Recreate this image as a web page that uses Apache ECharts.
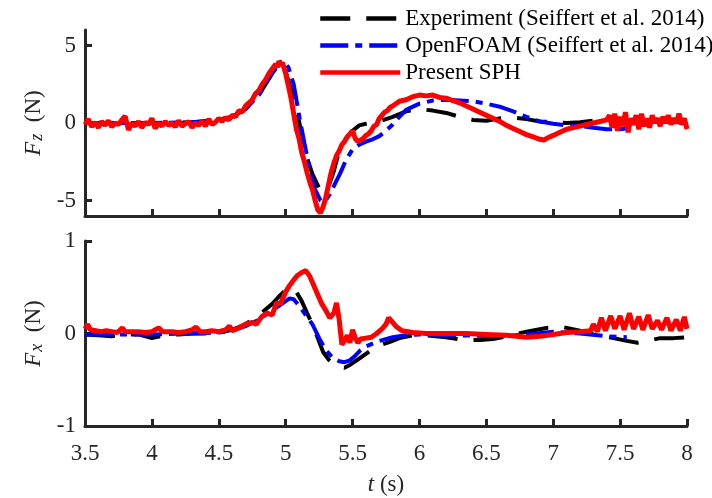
<!DOCTYPE html>
<html>
<head>
<meta charset="utf-8">
<script src="https://cdn.jsdelivr.net/npm/echarts@6/dist/echarts.min.js"></script>
<style>
html,body{margin:0;padding:0;background:#fff;}
#main{width:712px;height:498px;}
</style>
</head>
<body>
<div id="main"></div>
<script>
// legend names
var names = ['Experiment (Seiffert et al. 2014)', 'OpenFOAM (Seiffert et al. 2014)', 'Present SPH'];

// y tick values
var fzTicks = [-5, 0, 5];
var fxTicks = [-1, 0, 1];

// Fz (top panel), [t, value]
var expFz = [[3.5,0],[3.8,0],[4.0,0],[4.2,0],[4.4,0.1],[4.5,0.2],[4.6,0.4],[4.7,0.9],[4.8,1.8],[4.85,2.5],
    [4.9,3.2],[4.95,3.8],[4.97,3.85],[5.0,3.3],[5.05,1.9],[5.1,0.1],[5.15,-2.0],[5.2,-3.3],[5.25,-4.2],[5.28,-4.45],
    [5.32,-4.1],[5.36,-3.1],[5.4,-1.8],[5.45,-1.0],[5.5,-0.5],[5.55,-0.15],[5.6,-0.05],[5.7,0.1],[5.8,0.4],[5.9,0.75],
    [6.0,0.9],[6.1,0.8],[6.2,0.65],[6.3,0.4],[6.4,0.2],[6.5,0.15],[6.6,0.3],[6.7,0.35],[6.8,0.25],[6.9,0.1],
    [7.0,0.05],[7.1,0.0],[7.2,0.05],[7.3,0.15],[7.4,0.2],[7.5,0.15],[7.6,0.1],[7.7,0.1],[7.8,0.1],[7.9,0.05],[8.0,0.05]];

var foamFz = [[3.5,0],[4.0,0],[4.3,0.05],[4.5,0.2],[4.6,0.4],[4.7,0.9],[4.8,1.8],[4.9,3.3],[4.95,3.9],[4.98,4.0],
    [5.02,3.6],[5.06,2.5],[5.1,0.5],[5.14,-1.3],[5.18,-3.0],[5.22,-4.3],[5.26,-5.0],[5.29,-5.1],[5.33,-4.6],[5.37,-3.9],
    [5.41,-3.2],[5.45,-2.4],[5.5,-1.7],[5.55,-1.4],[5.6,-1.2],[5.65,-1.05],[5.7,-0.85],[5.75,-0.5],[5.8,-0.1],[5.85,0.4],
    [5.9,0.85],[6.0,1.25],[6.1,1.45],[6.2,1.5],[6.3,1.45],[6.4,1.4],[6.5,1.25],[6.6,1.05],[6.7,0.75],[6.8,0.4],
    [6.9,0.1],[7.0,-0.05],[7.1,-0.15],[7.2,-0.2],[7.3,-0.3],[7.4,-0.4],[7.5,-0.4],[7.55,-0.35]];

var sphFz = [[3.5,-0.1],[3.525,0.25],[3.55,-0.25],[3.575,0.05],[3.6,-0.3],[3.625,0.1],[3.65,-0.15],[3.675,0.15],[3.7,-0.25],[3.725,0.0],
    [3.75,-0.1],[3.775,0.2],[3.8,0.45],[3.825,-0.45],[3.85,0.0],[3.875,-0.2],[3.9,0.1],[3.925,-0.3],[3.95,0.05],[3.975,-0.1],
    [4.0,0.3],[4.025,-0.35],[4.05,0.0],[4.075,-0.2],[4.1,0.1],[4.125,-0.15],[4.15,0.0],[4.175,-0.25],[4.2,0.15],[4.225,-0.2],
    [4.25,-0.05],[4.275,0.1],[4.3,-0.3],[4.325,0.0],[4.35,-0.15],[4.375,0.1],[4.4,-0.2],[4.425,0.25],[4.45,-0.1],[4.475,0.05],
    [4.5,0.3],[4.525,0.1],[4.55,0.35],[4.575,0.2],[4.6,0.5],[4.625,0.4],[4.65,0.8],[4.675,0.7],[4.7,1.1],[4.725,1.3],
    [4.75,1.5],[4.775,1.9],[4.8,2.1],[4.825,2.5],[4.85,2.8],[4.875,3.2],[4.9,3.5],[4.925,3.8],[4.94,3.6],[4.95,4.0],
    [4.96,3.7],[4.975,3.9],[5.0,3.2],[5.02,2.4],[5.04,1.6],[5.06,0.6],[5.08,-0.4],[5.1,-1.0],[5.12,-1.9],[5.14,-2.5],
    [5.16,-3.2],[5.18,-3.8],[5.2,-4.3],[5.22,-5.0],[5.24,-5.6],[5.26,-5.8],[5.28,-5.4],[5.3,-4.8],[5.32,-4.0],[5.34,-3.2],
    [5.36,-2.6],[5.38,-2.1],[5.4,-1.8],[5.42,-1.4],[5.44,-1.2],[5.46,-0.9],[5.48,-0.7],[5.5,-0.5],[5.52,-1.0],[5.54,-1.2],
    [5.56,-1.1],[5.58,-1.0],[5.6,-0.8],[5.62,-0.7],[5.64,-0.5],[5.66,-0.2],[5.68,-0.1],[5.7,0.3],[5.72,0.5],[5.74,0.7],
    [5.76,0.8],[5.78,1.0],[5.8,1.1],[5.85,1.4],[5.9,1.5],[5.95,1.7],[6.0,1.8],[6.05,1.75],[6.1,1.8],[6.15,1.65],
    [6.2,1.6],[6.25,1.45],[6.3,1.3],[6.35,1.1],[6.4,0.9],[6.45,0.7],[6.5,0.5],[6.55,0.3],[6.6,0.1],[6.65,-0.15],
    [6.7,-0.35],[6.75,-0.55],[6.8,-0.75],[6.85,-0.9],[6.9,-1.05],[6.93,-1.1],[6.96,-0.95],[7.0,-0.8],[7.05,-0.6],[7.1,-0.4],
    [7.15,-0.3],[7.2,-0.2],[7.25,-0.1],[7.3,0.0],[7.35,0.1],[7.4,0.2],[7.42,0.5],[7.44,-0.3],[7.46,0.6],[7.48,-0.5],
    [7.5,0.4],[7.52,-0.2],[7.54,0.7],[7.56,-0.6],[7.58,0.3],[7.6,-0.1],[7.62,0.5],[7.64,-0.4],[7.66,0.6],[7.68,-0.2],
    [7.7,0.3],[7.72,-0.3],[7.74,0.5],[7.76,0.0],[7.78,0.3],[7.8,-0.2],[7.82,0.4],[7.84,0.0],[7.86,0.5],[7.88,-0.1],
    [7.9,0.3],[7.92,0.0],[7.94,0.6],[7.96,-0.1],[7.98,0.3],[8.0,-0.4]];

// Fx (bottom panel), [t, value]
var expFx = [[3.5,-0.01],[3.6,-0.02],[3.7,-0.03],[3.8,-0.01],[3.9,-0.01],[4.0,-0.05],[4.1,-0.02],[4.2,-0.01],[4.3,0.0],[4.4,0.0],
    [4.5,0.01],[4.6,0.04],[4.7,0.1],[4.8,0.2],[4.9,0.32],[4.95,0.4],[5.0,0.47],[5.04,0.5],[5.08,0.45],[5.12,0.35],
    [5.16,0.22],[5.2,0.1],[5.24,-0.05],[5.28,-0.2],[5.32,-0.28],[5.36,-0.33],[5.4,-0.36],[5.44,-0.37],[5.48,-0.34],[5.52,-0.3],
    [5.56,-0.26],[5.6,-0.22],[5.65,-0.17],[5.7,-0.13],[5.78,-0.09],[5.85,-0.05],[5.95,-0.02],[6.05,-0.02],[6.2,-0.04],[6.33,-0.07],
    [6.45,-0.07],[6.55,-0.06],[6.65,-0.03],[6.8,0.02],[6.95,0.06],[7.07,0.07],[7.2,0.03],[7.33,-0.02],[7.45,-0.05],[7.55,-0.08],
    [7.63,-0.1],[7.7,-0.08],[7.8,-0.05],[7.9,-0.05],[8.0,-0.04]];

var foamFx = [[3.5,-0.01],[4.0,-0.01],[4.3,0.0],[4.5,0.01],[4.6,0.03],[4.7,0.08],[4.8,0.15],[4.9,0.25],[4.95,0.3],[5.0,0.35],
    [5.03,0.38],[5.06,0.37],[5.1,0.3],[5.15,0.2],[5.2,0.1],[5.25,-0.05],[5.3,-0.18],[5.35,-0.26],[5.4,-0.3],[5.44,-0.31],
    [5.48,-0.29],[5.52,-0.24],[5.56,-0.18],[5.6,-0.14],[5.65,-0.11],[5.7,-0.08],[5.8,-0.04],[5.9,-0.02],[6.0,-0.01],[6.3,-0.02],
    [6.6,-0.03],[6.8,-0.01],[7.0,0.02],[7.2,0.0],[7.4,-0.03],[7.55,-0.04]];

var sphFx = [[3.5,0.05],[3.52,0.1],[3.54,0.04],[3.58,0.03],[3.62,0.02],[3.66,0.03],[3.7,0.02],[3.74,0.01],[3.78,0.06],[3.8,0.02],
    [3.85,0.02],[3.9,0.02],[3.95,0.01],[4.0,0.02],[4.05,0.06],[4.08,0.02],[4.15,0.02],[4.2,0.01],[4.25,0.02],[4.3,0.04],
    [4.33,0.07],[4.36,0.02],[4.4,0.02],[4.45,0.03],[4.5,0.02],[4.55,0.04],[4.58,0.08],[4.6,0.03],[4.65,0.06],[4.7,0.1],
    [4.75,0.12],[4.78,0.1],[4.82,0.18],[4.86,0.22],[4.9,0.2],[4.93,0.33],[4.96,0.32],[5.0,0.45],[5.03,0.52],[5.06,0.58],
    [5.09,0.63],[5.12,0.66],[5.15,0.68],[5.18,0.62],[5.21,0.52],[5.24,0.42],[5.27,0.32],[5.3,0.25],[5.33,0.17],[5.36,0.22],
    [5.38,0.33],[5.4,0.15],[5.42,-0.12],[5.44,-0.08],[5.46,-0.02],[5.48,-0.1],[5.5,0.04],[5.52,-0.05],[5.54,-0.1],[5.56,-0.06],
    [5.6,-0.05],[5.64,-0.04],[5.68,0.0],[5.72,0.05],[5.75,0.1],[5.77,0.17],[5.8,0.12],[5.83,0.07],[5.87,0.03],[5.95,0.01],
    [6.05,0.0],[6.2,0.0],[6.35,0.0],[6.5,-0.01],[6.65,-0.02],[6.8,-0.04],[6.9,-0.03],[7.0,-0.01],[7.1,0.01],[7.2,0.02],
    [7.28,0.03],[7.3,0.1],[7.33,0.02],[7.36,0.17],[7.39,0.03],[7.43,0.19],[7.46,0.05],[7.5,0.19],[7.53,0.04],[7.57,0.22],
    [7.6,0.05],[7.64,0.18],[7.67,0.04],[7.71,0.2],[7.74,0.05],[7.78,0.14],[7.81,0.04],[7.85,0.17],[7.88,0.03],[7.92,0.15],
    [7.95,0.03],[7.98,0.18],[8.0,0.05]];

var font = '"Liberation Serif", "Times New Roman", serif';
var axisColor = '#262626';

function xAxisOf(idx, showLabel) {
    return {
        type: 'value', gridIndex: idx, min: 3.5, max: 8, interval: 0.5,
        name: showLabel ? '{i|t} (s)' : '',
        nameLocation: 'middle', nameGap: 47,
        nameTextStyle: {
            fontFamily: font, fontSize: 23, color: axisColor,
            rich: {i: {fontFamily: font, fontSize: 23, fontStyle: 'italic', color: axisColor}}
        },
        axisLine: {show: true, onZero: false, lineStyle: {color: axisColor, width: 3}},
        axisTick: {show: true, inside: true, length: 7, lineStyle: {color: axisColor, width: 3}},
        axisLabel: {show: showLabel, fontFamily: font, fontSize: 23, color: axisColor, margin: 16},
        splitLine: {show: false}
    };
}

function yAxisOf(idx, min, max, ticks, sub) {
    return {
        type: 'value', gridIndex: idx, min: min, max: max, interval: 1,
        name: '{i|F}{s|' + sub + '}  (N)',
        nameLocation: 'middle', nameRotate: 90, nameGap: 38,
        nameTextStyle: {
            fontFamily: font, fontSize: 23, color: axisColor,
            rich: {
                i: {fontFamily: font, fontSize: 23, fontStyle: 'italic', color: axisColor},
                s: {fontFamily: font, fontSize: 18, fontStyle: 'italic', color: axisColor,
                    verticalAlign: 'bottom', padding: [6, 0, 0, 1]}
            }
        },
        axisLine: {show: true, onZero: false, lineStyle: {color: axisColor, width: 3}},
        axisTick: {show: true, inside: true, length: 7, customValues: ticks, lineStyle: {color: axisColor, width: 3}},
        axisLabel: {fontFamily: font, fontSize: 23, color: axisColor, margin: 9, customValues: ticks},
        splitLine: {show: false}
    };
}

function lineOf(name, data, idx, color, type, width) {
    return {
        name: name, type: 'line', xAxisIndex: idx, yAxisIndex: idx,
        data: data, symbol: 'none', showSymbol: false, smooth: false,
        lineStyle: {color: color, width: width, type: type},
        itemStyle: {color: color},
        silent: true
    };
}

var dashBlack = [30, 16];
var dashBlue = [28, 7, 7, 7];

var chart = echarts.init(document.getElementById('main'));
chart.setOption({
    animation: false,
    backgroundColor: '#fff',
    grid: [
        {left: 85, right: 25, top: 30, height: 186},
        {left: 85, right: 25, top: 241, height: 185}
    ],
    legend: {
        orient: 'vertical', left: 313, top: 2,
        itemWidth: 80, itemHeight: 20, itemGap: 4,
        itemStyle: {opacity: 0},
        lineStyle: {width: 4.5},
        textStyle: {fontFamily: font, fontSize: 23, color: '#000', lineHeight: 23},
        data: names
    },
    xAxis: [xAxisOf(0, false), xAxisOf(1, true)],
    yAxis: [yAxisOf(0, -6, 6, fzTicks, 'z'), yAxisOf(1, -1, 1, fxTicks, 'x')],
    series: [
        lineOf(names[0], expFz, 0, '#000000', dashBlack, 4),
        lineOf(names[1], foamFz, 0, '#0000ff', dashBlue, 4),
        lineOf(names[2], sphFz, 0, '#ff0000', 'solid', 5),
        lineOf(names[0], expFx, 1, '#000000', dashBlack, 4),
        lineOf(names[1], foamFx, 1, '#0000ff', dashBlue, 4),
        lineOf(names[2], sphFx, 1, '#ff0000', 'solid', 5)
    ]
});
</script>
</body>
</html>
